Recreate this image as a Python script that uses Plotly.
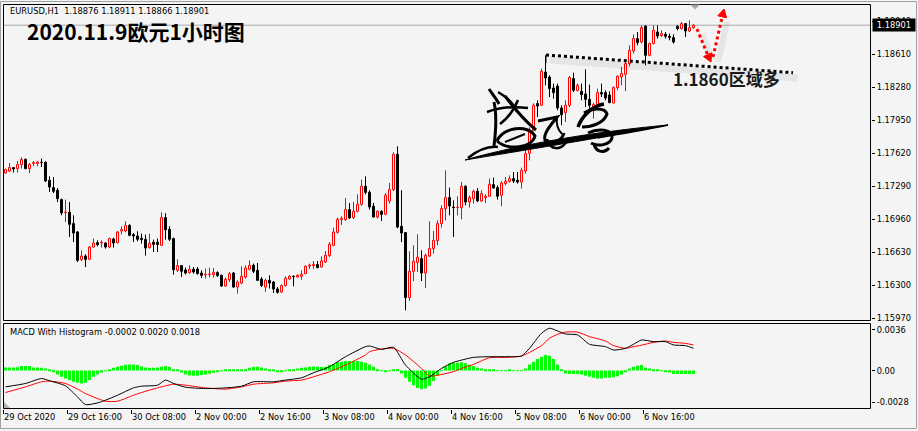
import re
import plotly.graph_objects as go

# ---------------- data ----------------
symbol_info = "EURUSD,H1  1.18876 1.18911 1.18866 1.18901"
chart_title = "2020.11.9欧元1小时图"
note_text = "1.1860区域多"
macd_info = "MACD With Histogram -0.0002 0.0020 0.0018"
last_price = 1.18901

time_labels = ["29 Oct 2020", "29 Oct 16:00", "30 Oct 08:00", "2 Nov 00:00", "2 Nov 16:00",
               "3 Nov 08:00", "4 Nov 00:00", "4 Nov 16:00", "5 Nov 08:00", "6 Nov 00:00", "6 Nov 16:00"]
time_label_bars = [0, 16, 32, 48, 64, 80, 96, 112, 128, 144, 160]

price_ticks = [1.15970, 1.16300, 1.16630, 1.16960, 1.17290, 1.17620, 1.17950, 1.18280, 1.18610, 1.18940]
macd_ticks = [0.0036, 0.0, -0.0028]
macd_tick_text = ["0.0036", "0.00", "-0.0028"]

open_ = [1.17423, 1.17443, 1.17477, 1.17467, 1.17507, 1.17560, 1.17467, 1.17517, 1.17517, 1.17530,
         1.17530, 1.17350, 1.17277, 1.17250, 1.17157, 1.17027, 1.17030, 1.16917, 1.16833, 1.16557,
         1.16593, 1.16560, 1.16683, 1.16727, 1.16723, 1.16723, 1.16683, 1.16763, 1.16727, 1.16843,
         1.16843, 1.16900, 1.16807, 1.16793, 1.16770, 1.16760, 1.16677, 1.16730, 1.16730, 1.16700,
         1.16977, 1.16860, 1.16767, 1.16450, 1.16497, 1.16453, 1.16427, 1.16460, 1.16463, 1.16423,
         1.16403, 1.16407, 1.16407, 1.16427, 1.16400, 1.16293, 1.16357, 1.16423, 1.16283, 1.16323,
         1.16383, 1.16460, 1.16500, 1.16450, 1.16363, 1.16283, 1.16350, 1.16333, 1.16263, 1.16233,
         1.16297, 1.16363, 1.16390, 1.16383, 1.16390, 1.16417, 1.16493, 1.16497, 1.16507, 1.16483,
         1.16533, 1.16597, 1.16700, 1.16830, 1.16957, 1.16957, 1.17057, 1.16977, 1.17040, 1.17110,
         1.17290, 1.17230, 1.17090, 1.16983, 1.17040, 1.17010, 1.17143, 1.17257, 1.17610, 1.16890,
         1.16827, 1.16177, 1.16440, 1.16527, 1.16567, 1.16423, 1.16593, 1.16667, 1.16747, 1.16917,
         1.17067, 1.17177, 1.17083, 1.17077, 1.17077, 1.17290, 1.17133, 1.17167, 1.17240, 1.17143,
         1.17177, 1.17190, 1.17307, 1.17277, 1.17200, 1.17317, 1.17340, 1.17367, 1.17350, 1.17333,
         1.17443, 1.17620, 1.17850, 1.18117, 1.18100, 1.18433, 1.18383, 1.18273, 1.18293, 1.18073,
         1.18027, 1.18100, 1.18367, 1.18247, 1.18240, 1.18213, 1.18160, 1.18050, 1.18107, 1.18227,
         1.18227, 1.18203, 1.18123, 1.18277, 1.18383, 1.18410, 1.18517, 1.18643, 1.18767, 1.18733,
         1.18893, 1.18600, 1.18717, 1.18833, 1.18797, 1.18810, 1.18790, 1.18777, 1.18890, 1.18867,
         1.18917, 1.18843, 1.18876]
high = [1.17467, 1.17523, 1.17483, 1.17543, 1.17580, 1.17567, 1.17523, 1.17543, 1.17543, 1.17567,
        1.17540, 1.17390, 1.17383, 1.17273, 1.17167, 1.17157, 1.17133, 1.17000, 1.16843, 1.16650,
        1.16610, 1.16693, 1.16767, 1.16750, 1.16750, 1.16733, 1.16777, 1.16777, 1.16843, 1.16890,
        1.16940, 1.16910, 1.16823, 1.16840, 1.16817, 1.16807, 1.16817, 1.16757, 1.16767, 1.17030,
        1.17020, 1.16890, 1.16777, 1.16560, 1.16500, 1.16477, 1.16500, 1.16483, 1.16483, 1.16450,
        1.16467, 1.16477, 1.16473, 1.16440, 1.16407, 1.16377, 1.16433, 1.16433, 1.16350, 1.16490,
        1.16500, 1.16550, 1.16517, 1.16523, 1.16383, 1.16367, 1.16400, 1.16343, 1.16283, 1.16310,
        1.16390, 1.16403, 1.16400, 1.16410, 1.16450, 1.16500, 1.16517, 1.16543, 1.16543, 1.16590,
        1.16643, 1.16733, 1.16877, 1.16977, 1.16990, 1.17173, 1.17123, 1.17133, 1.17210, 1.17357,
        1.17390, 1.17250, 1.17123, 1.17050, 1.17050, 1.17223, 1.17323, 1.17630, 1.17690, 1.17250,
        1.16833, 1.16640, 1.16700, 1.16810, 1.16650, 1.16617, 1.16940, 1.16843, 1.16950, 1.17100,
        1.17450, 1.17277, 1.17150, 1.17190, 1.17333, 1.17300, 1.17200, 1.17257, 1.17273, 1.17250,
        1.17210, 1.17367, 1.17377, 1.17300, 1.17340, 1.17383, 1.17400, 1.17433, 1.17433, 1.17477,
        1.17667, 1.17880, 1.18120, 1.18150, 1.18467, 1.18600, 1.18400, 1.18317, 1.18317, 1.18100,
        1.18150, 1.18393, 1.18427, 1.18317, 1.18317, 1.18460, 1.18307, 1.18127, 1.18267, 1.18317,
        1.18250, 1.18240, 1.18290, 1.18400, 1.18483, 1.18533, 1.18700, 1.18810, 1.18833, 1.18900,
        1.18900, 1.18727, 1.18900, 1.18900, 1.18850, 1.18833, 1.18817, 1.18810, 1.18900, 1.18933,
        1.18923, 1.18950, 1.18911]
low = [1.17417, 1.17433, 1.17427, 1.17427, 1.17467, 1.17460, 1.17423, 1.17493, 1.17490, 1.17483,
       1.17333, 1.17233, 1.17223, 1.17133, 1.17000, 1.16933, 1.16783, 1.16733, 1.16533, 1.16543,
       1.16483, 1.16553, 1.16677, 1.16690, 1.16677, 1.16667, 1.16673, 1.16677, 1.16717, 1.16810,
       1.16830, 1.16790, 1.16733, 1.16740, 1.16717, 1.16597, 1.16667, 1.16633, 1.16633, 1.16693,
       1.16757, 1.16743, 1.16407, 1.16433, 1.16383, 1.16407, 1.16417, 1.16417, 1.16407, 1.16373,
       1.16367, 1.16377, 1.16377, 1.16383, 1.16283, 1.16283, 1.16333, 1.16273, 1.16217, 1.16310,
       1.16367, 1.16450, 1.16423, 1.16343, 1.16283, 1.16233, 1.16267, 1.16223, 1.16217, 1.16223,
       1.16290, 1.16357, 1.16290, 1.16377, 1.16357, 1.16410, 1.16463, 1.16463, 1.16470, 1.16477,
       1.16523, 1.16583, 1.16690, 1.16817, 1.16903, 1.16943, 1.16963, 1.16963, 1.17030, 1.17097,
       1.17210, 1.17057, 1.16977, 1.16967, 1.16943, 1.17000, 1.17117, 1.17243, 1.16870, 1.16733,
       1.16050, 1.16143, 1.16343, 1.16433, 1.16343, 1.16273, 1.16583, 1.16617, 1.16700, 1.16877,
       1.16950, 1.17000, 1.16783, 1.17000, 1.16960, 1.17100, 1.17077, 1.17117, 1.17133, 1.17133,
       1.17123, 1.17183, 1.17267, 1.17157, 1.17090, 1.17300, 1.17327, 1.17323, 1.17317, 1.17267,
       1.17417, 1.17550, 1.17850, 1.17983, 1.18093, 1.18300, 1.18183, 1.18167, 1.18050, 1.17900,
       1.17933, 1.18083, 1.18233, 1.18240, 1.18150, 1.18083, 1.18067, 1.17967, 1.18083, 1.18183,
       1.18150, 1.18120, 1.18117, 1.18250, 1.18300, 1.18243, 1.18490, 1.18617, 1.18700, 1.18717,
       1.18500, 1.18590, 1.18710, 1.18767, 1.18783, 1.18767, 1.18750, 1.18717, 1.18850, 1.18857,
       1.18783, 1.18833, 1.18866]
close = [1.17457, 1.17477, 1.17463, 1.17507, 1.17557, 1.17467, 1.17510, 1.17527, 1.17533, 1.17527,
         1.17343, 1.17283, 1.17240, 1.17167, 1.17023, 1.17033, 1.16910, 1.16823, 1.16550, 1.16593,
         1.16560, 1.16683, 1.16723, 1.16707, 1.16730, 1.16683, 1.16767, 1.16723, 1.16833, 1.16857,
         1.16897, 1.16800, 1.16793, 1.16760, 1.16757, 1.16673, 1.16720, 1.16710, 1.16707, 1.16977,
         1.16857, 1.16760, 1.16457, 1.16497, 1.16440, 1.16423, 1.16460, 1.16433, 1.16417, 1.16400,
         1.16410, 1.16413, 1.16430, 1.16397, 1.16293, 1.16360, 1.16417, 1.16283, 1.16333, 1.16390,
         1.16473, 1.16500, 1.16440, 1.16350, 1.16297, 1.16350, 1.16323, 1.16263, 1.16230, 1.16297,
         1.16370, 1.16390, 1.16387, 1.16400, 1.16410, 1.16490, 1.16503, 1.16510, 1.16477, 1.16543,
         1.16600, 1.16710, 1.16833, 1.16960, 1.16970, 1.17057, 1.16973, 1.17040, 1.17110, 1.17290,
         1.17230, 1.17083, 1.16983, 1.17040, 1.17010, 1.17200, 1.17257, 1.17610, 1.16883, 1.16823,
         1.16177, 1.16440, 1.16540, 1.16580, 1.16423, 1.16600, 1.16667, 1.16750, 1.16917, 1.17067,
         1.17177, 1.17093, 1.17077, 1.17080, 1.17290, 1.17133, 1.17177, 1.17240, 1.17143, 1.17217,
         1.17190, 1.17310, 1.17273, 1.17190, 1.17323, 1.17340, 1.17367, 1.17343, 1.17333, 1.17450,
         1.17617, 1.17850, 1.18100, 1.18093, 1.18440, 1.18373, 1.18267, 1.18227, 1.18073, 1.18007,
         1.18100, 1.18377, 1.18250, 1.18300, 1.18207, 1.18160, 1.18100, 1.18107, 1.18227, 1.18213,
         1.18173, 1.18127, 1.18277, 1.18390, 1.18417, 1.18517, 1.18650, 1.18767, 1.18727, 1.18877,
         1.18600, 1.18717, 1.18850, 1.18793, 1.18817, 1.18790, 1.18777, 1.18733, 1.18867, 1.18917,
         1.18843, 1.18876, 1.18901]

macd_hist = [
    0.00028, 0.00028, 0.00028, 0.00030, 0.00040, 0.00040, 0.00040, 0.00028, 0.00028, 0.00025,
    0.00019, 0.00005, -0.00010, -0.00034, -0.00055, -0.00070, -0.00084, -0.00099, -0.00108, -0.00114,
    -0.00108, -0.00084, -0.00055, -0.00034, -0.00016, -0.00004, 0.00010, 0.00025, 0.00034, 0.00043,
    0.00052, 0.00055, 0.00055, 0.00049, 0.00037, 0.00028, 0.00025, 0.00025, 0.00028, 0.00034,
    0.00040, 0.00031, 0.00013, 0.00003, -0.00016, -0.00034, -0.00043, -0.00046, -0.00046, -0.00040,
    -0.00034, -0.00028, -0.00019, -0.00010, -0.00003, 0.00004, 0.00004, 0.00004, 0.00004, 0.00004,
    0.00004, 0.00025, 0.00031, 0.00034, 0.00028, 0.00019, 0.00010, 0.00003, -0.00010, -0.00010,
    -0.00004, 0.00004, 0.00013, 0.00019, 0.00025, 0.00028, 0.00034, 0.00037, 0.00034, 0.00031,
    0.00034, 0.00049, 0.00058, 0.00073, 0.00079, 0.00084, 0.00084, 0.00084, 0.00084, 0.00079,
    0.00070, 0.00055, 0.00034, 0.00013, -0.00004, -0.00010, -0.00004, 0.00013, 0.00004, -0.00025,
    -0.00064, -0.00099, -0.00129, -0.00153, -0.00164, -0.00159, -0.00135, -0.00093, -0.00046, -0.00004,
    0.00034, 0.00064, 0.00070, 0.00070, 0.00073, 0.00064, 0.00049, 0.00040, 0.00025, 0.00019,
    0.00013, 0.00010, 0.00004, -0.00003, -0.00004, -0.00003, 0.00003, -0.00004, -0.00003, -0.00003,
    0.00019, 0.00055, 0.00079, 0.00102, 0.00123, 0.00138, 0.00132, 0.00102, 0.00055, 0.00013,
    -0.00025, -0.00031, -0.00031, -0.00031, -0.00034, -0.00046, -0.00055, -0.00064, -0.00070, -0.00070,
    -0.00064, -0.00064, -0.00058, -0.00049, -0.00034, -0.00010, 0.00019, 0.00034, 0.00043, 0.00049,
    0.00025, 0.00019, 0.00013, 0.00004, -0.00004, -0.00010, -0.00016, -0.00030, -0.00030, -0.00030,
    -0.00030, -0.00030, -0.00030]

macd_bars = [0, 5, 9, 11, 15, 18, 20, 23, 25, 28, 32, 34, 38, 40, 42, 45, 50, 55, 59, 62,
             67, 70, 74, 77, 81, 85, 90, 91, 94, 97, 100, 104, 106, 109, 112, 114, 117, 121, 125, 129,
             131, 134, 136, 138, 140, 143, 146, 150, 152, 155, 157, 159, 162, 165, 167, 170, 172]
macd_line = [-0.00144, -0.00114, -0.00070, -0.00090, -0.00135, -0.00233, -0.00301, -0.00286, -0.00262, -0.00218,
             -0.00153, -0.00138, -0.00129, -0.00084, -0.00114, -0.00147, -0.00159, -0.00153, -0.00138, -0.00099,
             -0.00099, -0.00084, -0.00064, -0.00019, 0.00034, 0.00123, 0.00212, 0.00218, 0.00188, 0.00206,
             0.00049, -0.00076, -0.00055, 0.00019, 0.00073, 0.00093, 0.00117, 0.00123, 0.00123, 0.00129,
             0.00197, 0.00330, 0.00375, 0.00351, 0.00324, 0.00316, 0.00233, 0.00212, 0.00182, 0.00197,
             0.00233, 0.00271, 0.00256, 0.00256, 0.00227, 0.00221, 0.00197]
signal_line = [-0.00194, -0.00144, -0.00099, -0.00093, -0.00114, -0.00164, -0.00203, -0.00247, -0.00271, -0.00271,
               -0.00218, -0.00194, -0.00153, -0.00135, -0.00120, -0.00129, -0.00153, -0.00164, -0.00144, -0.00120,
               -0.00108, -0.00093, -0.00084, -0.00055, -0.00010, 0.00049, 0.00138, 0.00167, 0.00191, 0.00197,
               0.00138, 0.00019, -0.00049, -0.00034, -0.00010, 0.00019, 0.00055, 0.00114, 0.00117, 0.00129,
               0.00161, 0.00221, 0.00286, 0.00321, 0.00341, 0.00341, 0.00301, 0.00262, 0.00221, 0.00197,
               0.00212, 0.00225, 0.00250, 0.00262, 0.00250, 0.00241, 0.00227]

# ---------------- geometry helpers (page pixels -> paper) ----------------
W, H = 918, 431
ML, MR, MT, MB = 3, 47, 4, 22
PW, PH = W - ML - MR, H - MT - MB
BOT = H - MB


def fx(px):
    return (px - ML) / PW


def fy(py):
    return (BOT - py) / PH


def pp(s):
    out, pend = [], []
    for t in re.findall(r'[MLCQZ]|-?\d+\.?\d*', s):
        if t in 'MLCQZ':
            out.append(t)
        else:
            pend.append(float(t))
            if len(pend) == 2:
                out.append(f"{fx(pend[0]):.5f},{fy(pend[1]):.5f}")
                pend = []
    return ' '.join(out)


FONT = "DejaVu Sans"
BG = "#f4f4f4"

n = len(open_)
idx = list(range(n))
bull = [i for i in idx if close[i] >= open_[i]]
bear = [i for i in idx if close[i] < open_[i]]


def wicks(sel):
    xs, ys = [], []
    for i in sel:
        top, bot = max(open_[i], close[i]), min(open_[i], close[i])
        xs += [i, i, None, i, i, None]
        ys += [high[i], top, None, bot, low[i], None]
    return xs, ys


fig = go.Figure()
for sel, col, fill in [(bull, "#ff0000", BG), (bear, "#000000", "#000000")]:
    wx, wy = wicks(sel)
    fig.add_trace(go.Scatter(x=wx, y=wy, mode="lines", line=dict(color=col, width=1),
                             hoverinfo="skip", yaxis="y"))
    fig.add_trace(go.Bar(x=sel,
                         y=[max(abs(close[i] - open_[i]), 0.00002) for i in sel],
                         base=[min(open_[i], close[i]) for i in sel],
                         width=0.5, marker=dict(color=fill, line=dict(color=col, width=1)),
                         hoverinfo="skip", yaxis="y"))

fig.add_trace(go.Bar(x=idx, y=macd_hist, width=0.75, marker=dict(color="#00ff00", line=dict(width=0)),
                     yaxis="y2", hoverinfo="skip"))
fig.add_trace(go.Scatter(x=macd_bars, y=signal_line, mode="lines",
                         line=dict(color="#ff0000", width=1, shape="spline", smoothing=0.6), yaxis="y2"))
fig.add_trace(go.Scatter(x=macd_bars, y=macd_line, mode="lines",
                         line=dict(color="#000000", width=1, shape="spline", smoothing=0.6), yaxis="y2"))

shapes = []
# window border
shapes.append(dict(type="rect", xref="paper", yref="paper", x0=fx(0.5), x1=fx(916.5), y0=fy(428.5), y1=fy(1.5),
                   line=dict(color="#a0a0a0", width=1), layer="below"))
# panel frames
shapes.append(dict(type="rect", xref="paper", yref="paper", x0=fx(3.5), x1=fx(870.5), y0=fy(320.5), y1=fy(4.5),
                   line=dict(color="#000000", width=1)))
shapes.append(dict(type="rect", xref="paper", yref="paper", x0=fx(3.5), x1=fx(870.5), y0=fy(408.5), y1=fy(323.5),
                   line=dict(color="#000000", width=1)))
# bid line
shapes.append(dict(type="line", xref="paper", yref="y", x0=fx(4), x1=fx(870), y0=last_price, y1=last_price,
                   line=dict(color="#a8a8a8", width=1), layer="below"))
# chart shift marker & corner marker
shapes.append(dict(type="path", xref="paper", yref="paper", path=pp("M 690 4.5 L 700 4.5 L 695 9.5 Z"),
                   fillcolor="#a8a8a8", line=dict(width=0)))
shapes.append(dict(type="path", xref="paper", yref="paper", path=pp("M 4 402 L 4 408 L 10 408 Z"),
                   fillcolor="#b0b0b0", line=dict(width=0)))
# trend line with soft shadow
shapes.append(dict(type="line", xref="paper", yref="paper", x0=fx(550), y0=fy(60), x1=fx(798), y1=fy(78),
                   line=dict(color="rgba(0,0,0,0.06)", width=7)))
shapes.append(dict(type="line", xref="paper", yref="paper", x0=fx(546), y0=fy(55), x1=fx(793), y1=fy(72.7),
                   line=dict(color="#000000", width=3, dash="dot")))
shapes.append(dict(type="line", xref="paper", yref="paper", x0=fx(546), y0=fy(55), x1=fx(546), y1=fy(63),
                   line=dict(color="#000000", width=1)))
# red dotted arrows
for (x0, y0, x1, y1, tri) in [
        (697, 29, 707.6, 54.7, "M 711 62 L 711.7 52.8 L 703.5 56.6 Z"),
        (713, 57, 722.2, 16.8, "M 724 9 L 726.6 17.8 L 717.8 15.8 Z")]:
    shapes.append(dict(type="line", xref="paper", yref="paper", x0=fx(x0 + 5), y0=fy(y0 + 5), x1=fx(x1 + 5),
                       y1=fy(y1 + 5), line=dict(color="rgba(0,0,0,0.06)", width=6)))
    shapes.append(dict(type="line", xref="paper", yref="paper", x0=fx(x0), y0=fy(y0), x1=fx(x1), y1=fy(y1),
                       line=dict(color="#ff0000", width=3, dash="dot")))
    shapes.append(dict(type="path", xref="paper", yref="paper", path=pp(tri), fillcolor="#ff0000",
                       line=dict(color="#ff0000", width=1)))
# handwritten signature (decoration)
sig_fill = ["M 465 160 C 520 144 600 131 668 125 C 600 138 520 151 465 160 Z"]
sig_strokes = [
    ("M 489 89 C 493 95 497 100 499 104", 3),
    ("M 498 92 C 505 96 510 100 514 106", 2.5),
    ("M 494 102 C 497 115 496 130 494 146", 3),
    ("M 487 112 C 498 108 512 106 528 108", 2.5),
    ("M 505 96 C 514 108 524 120 536 130", 3),
    ("M 518 100 C 514 110 508 118 500 124", 2.5),
    ("M 497 141 C 503 127 528 124 535 136 C 532 148 508 151 497 141", 3),
    ("M 505 142 L 525 134", 2),
    ("M 468 158 C 478 150 488 146 498 147", 2.5),
    ("M 538 121 L 557 117 C 550 126 543 134 545 140 C 552 145 562 141 564 133", 3),
    ("M 547 139 C 549 151 563 151 567 140", 2.5),
    ("M 557 117 C 556 124 558 130 562 134", 2),
    ("M 578 127 C 582 116 592 106 604 104", 3.5),
    ("M 584 113 C 592 108 605 107 607 114 C 604 123 592 127 582 127", 3),
    ("M 588 133 C 598 128 613 129 612 138 C 610 145 598 147 591 143", 3),
    ("M 594 143 C 595 152 604 154 609 148", 3),
]
for s in sig_fill:
    shapes.append(dict(type="path", xref="paper", yref="paper", path=pp(s), fillcolor="#000000",
                       line=dict(color="#000000", width=1)))
shapes.append(dict(type="path", xref="paper", yref="paper", path=pp("M 668 125 C 645 130 620 134 598 138"),
                   line=dict(color="#000000", width=1.3)))
for s, wd in sig_strokes:
    shapes.append(dict(type="path", xref="paper", yref="paper", path=pp(s),
                       line=dict(color="#000000", width=wd)))

annotations = [
    dict(xref="paper", yref="paper", x=fx(8), y=fy(11), xanchor="left", yanchor="middle", showarrow=False,
         text=symbol_info, font=dict(family=FONT, size=8.3, color="#000000")),
    dict(xref="paper", yref="paper", x=fx(25), y=fy(31), xanchor="left", yanchor="middle", showarrow=False,
         text=chart_title, font=dict(family="Noto Sans CJK SC", size=21, color="#000000", weight=700)),
    dict(xref="paper", yref="paper", x=fx(671), y=fy(78.5), xanchor="left", yanchor="middle", showarrow=False,
         text=note_text, font=dict(family="Noto Sans CJK SC", size=17, color="#1a1a1a", weight=700)),
    dict(xref="paper", yref="paper", x=fx(8), y=fy(331.5), xanchor="left", yanchor="middle", showarrow=False,
         text=macd_info, font=dict(family=FONT, size=8.3, color="#000000")),
    dict(xref="paper", yref="y", x=1, xshift=1, y=last_price, xanchor="left", yanchor="middle", showarrow=False,
         text=f"{last_price:.5f}", bgcolor="#000000", borderpad=1, width=40,
         font=dict(family=FONT, size=8.3, color="#ffffff")),
]

fig.update_layout(
    width=W, height=H, margin=dict(l=ML, r=MR, t=MT, b=MB, pad=0),
    paper_bgcolor=BG, plot_bgcolor=BG, showlegend=False, barmode="overlay", hovermode=False,
    xaxis=dict(range=[-0.625, -0.625 + PW / 4], anchor="y2", showgrid=False, zeroline=False, showline=False,
               tickmode="array", tickvals=[b - 0.5 for b in time_label_bars], ticktext=time_labels,
               ticks="outside", ticklen=4, tickcolor="#000000", ticklabelposition="outside right",
               tickfont=dict(family=FONT, size=8.3, color="#000000")),
    yaxis=dict(domain=[fy(321), 1], range=[1.1597 - (321 - 318.3) / 1e4, 1.1597 + (318.3 - MT) / 1e4],
               side="right", anchor="x", showgrid=False, zeroline=False, showline=False,
               tickmode="array", tickvals=price_ticks, ticktext=[f"{v:.5f}" for v in price_ticks],
               ticks="outside", ticklen=3, tickcolor="#000000",
               tickfont=dict(family=FONT, size=8.3, color="#000000")),
    yaxis2=dict(domain=[0, fy(323.3)], range=[(370.6 - 409) / 11300, (370.6 - 323.3) / 11300],
                side="right", anchor="x", showgrid=False, zeroline=False, showline=False,
                tickmode="array", tickvals=macd_ticks, ticktext=macd_tick_text,
                ticks="outside", ticklen=3, tickcolor="#000000",
                tickfont=dict(family=FONT, size=8.3, color="#000000")),
    shapes=shapes, annotations=annotations,
)

fig.write_html("out.html", config={"displayModeBar": False},
               post_script="document.body.style.margin='0px';document.body.style.overflow='hidden';")
